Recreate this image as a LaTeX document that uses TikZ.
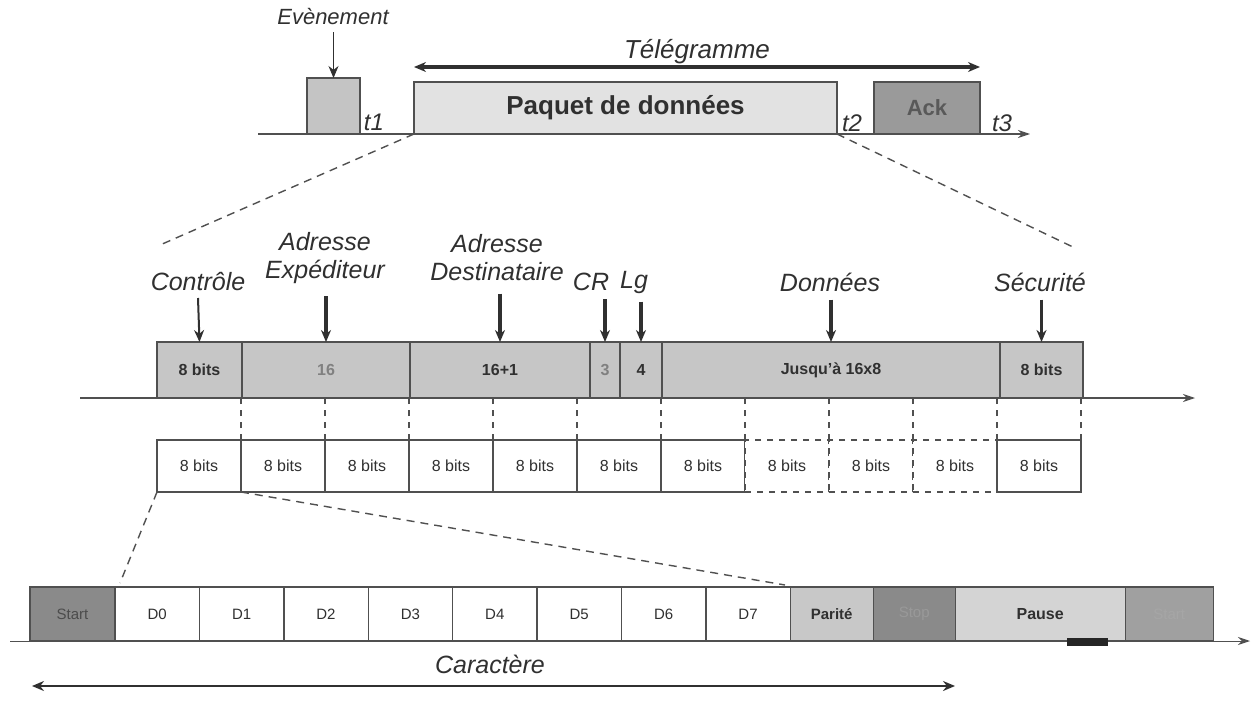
\documentclass[tikz,border=0pt]{standalone}
\usepackage{fontspec}
\setmainfont{Liberation Sans}
\usetikzlibrary{arrows.meta}
\definecolor{bord}{HTML}{505050}
\definecolor{txt}{HTML}{303030}
\definecolor{evg}{HTML}{C4C4C4}
\definecolor{pkg}{HTML}{E2E2E2}
\definecolor{ackg}{HTML}{9A9A9A}
\definecolor{midg}{HTML}{C6C6C6}
\definecolor{parg}{HTML}{C8C8C8}
\definecolor{stopg}{HTML}{8A8A8A}
\definecolor{pausg}{HTML}{D4D4D4}
\definecolor{strg}{HTML}{A0A0A0}
\tikzset{
  bx/.style={draw=bord,line width=0.7pt,inner sep=0pt,outer sep=0pt,text=txt},
  lbl/.style={font=\fontsize{12.5}{14}\selectfont\itshape,text=txt,inner sep=1pt,align=center},
  tlab/.style={font=\fontsize{12}{14}\selectfont\itshape,text=txt},
  midbox/.style={bx,fill=midg,minimum height=28pt,anchor=west,font=\fontsize{8}{9}\selectfont\bfseries},
  lowbox/.style={bx,fill=white,minimum width=42pt,minimum height=26pt,anchor=west,font=\fontsize{8}{9}\selectfont},
  lowdash/.style={lowbox,dashed},
  botbox/.style={bx,fill=white,minimum height=27pt,minimum width=42.2pt,anchor=west,font=\fontsize{7.5}{9}\selectfont},
  timeline/.style={draw=bord,line width=0.7pt,-{Stealth[length=6pt,width=4pt]}},
  dline/.style={draw=bord,line width=0.7pt,dash pattern=on 4pt off 3pt},
  downarr/.style={draw=txt,-{Stealth[length=6pt,width=5pt]}},
  dblarr/.style={draw=txt,line width=1.6pt,{Stealth[length=6pt,width=5pt]}-{Stealth[length=6pt,width=5pt]}}
}
\begin{document}
\begin{tikzpicture}[x=0.5pt,y=-0.5pt]
\useasboundingbox (0,0) rectangle (1252,701);
% ---------- top ----------
\coordinate (tl0) at (258,134);
\coordinate (tl1) at (1030,134);
\draw[timeline] (tl0) -- (tl1);
\node[bx,fill=evg,minimum width=26.5pt,minimum height=28pt,anchor=south west] (ev) at (307,134) {};
\node[bx,fill=pkg,minimum width=211.5pt,minimum height=26pt,anchor=south west,font=\fontsize{13}{15}\selectfont\bfseries] (pk) at (414,134) {Paquet de données};
\node[bx,fill=ackg,minimum width=53pt,minimum height=26pt,anchor=south west,font=\fontsize{11}{13}\selectfont\bfseries,text=black!65] (ack) at (874,134) {Ack};
\node[font=\fontsize{11}{13}\selectfont\itshape,text=txt] (evl) at (333,17) {Evènement};
\draw[downarr] (evl.south -| ev.north) -- (ev.north);
\node[tlab] (t1) at (374,122) {t1};
\node[tlab] (t2) at (852,123) {t2};
\node[tlab] (t3) at (1002,123) {t3};
\node[font=\fontsize{13}{15}\selectfont\itshape,text=txt] (telel) at (697,52) {Télégramme};
\coordinate (tg0) at (414,67);
\coordinate (tg1) at (980,67);
\draw[dblarr] (tg0) -- (tg1);
\coordinate (zl) at (160,245);
\coordinate (zr) at (1075,248);
\draw[dline] (pk.south west) -- (zl);
\draw[dline] (pk.south east) -- (zr);
% ---------- middle ----------
\coordinate (ml0) at (80,398);
\coordinate (ml1) at (1195,398);
\draw[timeline] (ml0) -- (ml1);
\node[midbox,minimum width=42.5pt] (m1) at (157,370) {8 bits};
\node[midbox,minimum width=84pt,text=black!50] (m2) at (m1.east) {16};
\node[midbox,minimum width=90pt] (m3) at (m2.east) {16+1};
\node[midbox,minimum width=15pt,text=black!50] (m4) at (m3.east) {3};
\node[midbox,minimum width=21pt] (m5) at (m4.east) {4};
\node[midbox,minimum width=169pt] (m6) at (m5.east) {Jusqu'à 16x8};
\node[midbox,minimum width=41.5pt] (m7) at (m6.east) {8 bits};
\node[lbl] (l1) at (198,282) {Contrôle};
\node[lbl] (l2) at (325,258) {Adresse\\Expéditeur};
\node[lbl] (l3) at (497,258) {Adresse\\Destinataire};
\node[lbl] (l4) at (591,282) {CR};
\node[lbl] (l5) at (634,282) {Lg};
\node[lbl] (l6) at (830,282) {Données};
\node[lbl] (l7) at (1040,282) {Sécurité};
\draw[downarr,line width=1pt] (198,298) -- (m1.north);
\draw[downarr,line width=2pt] (l2.south -| m2.north) ++(0,10) -- (m2.north);
\draw[downarr,line width=2pt] (l3.south -| m3.north) ++(0,10) -- (m3.north);
\draw[downarr,line width=1.6pt] (l4.south -| m4.north) ++(0,6) -- (m4.north);
\draw[downarr,line width=1.6pt] (l5.south -| m5.north) ++(0,6) -- (m5.north);
\draw[downarr,line width=1.6pt] (l6.south -| m6.north) ++(0,6) -- (m6.north);
\draw[downarr,line width=1.6pt] (l7.south -| m7.north) ++(0,6) -- (m7.north);
% ---------- lower row ----------
\node[lowbox] (b0) at (157,466) {8 bits};
\node[lowbox] (b1) at (b0.east) {8 bits};
\node[lowbox] (b2) at (b1.east) {8 bits};
\node[lowbox] (b3) at (b2.east) {8 bits};
\node[lowbox] (b4) at (b3.east) {8 bits};
\node[lowbox] (b5) at (b4.east) {8 bits};
\node[lowbox] (b6) at (b5.east) {8 bits};
\node[lowdash] (b7) at (b6.east) {8 bits};
\node[lowdash] (b8) at (b7.east) {8 bits};
\node[lowdash] (b9) at (b8.east) {8 bits};
\node[lowbox,line width=1pt] (b10) at (b9.east) {8 bits};
\foreach \b in {b0,b1,b2,b3,b4,b5,b6,b7,b8,b9,b10}
  \draw[draw=bord,line width=0.6pt,dashed] (\b.north east) -- ++(0,-42);
\coordinate (zl2) at (120,583);
\coordinate (zr2) at (785,585);
\draw[dline] (b0.south west) -- (zl2);
\draw[dline] (b0.south east) -- (zr2);
% ---------- bottom row ----------
\coordinate (bl0) at (10,641);
\coordinate (bl1) at (1250,641);
\draw[timeline,line width=0.5pt] (bl0) -- (bl1);
\node[botbox,fill=stopg,minimum width=42.5pt,text=black!70] (s0) at (30,614) {Start};
\node[botbox] (d0) at (s0.east) {D0};
\node[botbox] (d1) at (d0.east) {D1};
\node[botbox] (d2) at (d1.east) {D2};
\node[botbox] (d3) at (d2.east) {D3};
\node[botbox] (d4) at (d3.east) {D4};
\node[botbox] (d5) at (d4.east) {D5};
\node[botbox] (d6) at (d5.east) {D6};
\node[botbox] (d7) at (d6.east) {D7};
\node[botbox,fill=parg,minimum width=41.5pt,font=\fontsize{7.5}{9}\selectfont\bfseries] (par) at (d7.east) {Parité};
\node[botbox,fill=stopg,minimum width=41pt,text=black!40] (stp) at (par.east) {Stop};
\node[botbox,fill=pausg,minimum width=85pt,font=\fontsize{8}{9}\selectfont\bfseries] (pau) at (stp.east) {Pause};
\node[botbox,fill=strg,minimum width=44pt,text=black!35] (s1) at (pau.east) {Start};
\fill[black!85] (1067,638) rectangle (1108,646);
\node[font=\fontsize{12.5}{15}\selectfont\itshape,text=txt] (carl) at (490,664) {Caractère};
\coordinate (ca0) at (32,686);
\coordinate (ca1) at (955,686);
\draw[dblarr,line width=1.2pt] (ca0) -- (ca1);
\end{tikzpicture}
\end{document}
